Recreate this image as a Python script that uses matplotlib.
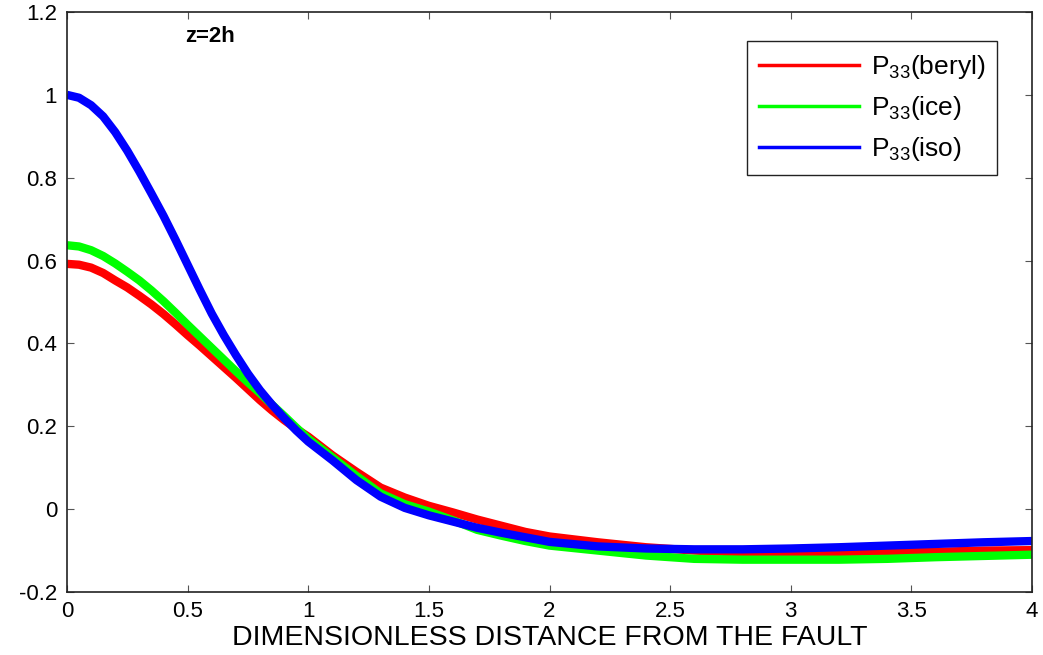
import numpy as np
import matplotlib
matplotlib.use('Agg')
import matplotlib.pyplot as plt
from matplotlib.lines import Line2D

plt.rcParams['font.family'] = ['Liberation Sans', 'DejaVu Sans']
plt.rcParams['mathtext.fontset'] = 'custom'
plt.rcParams['mathtext.rm'] = 'Liberation Sans'

# distance from the fault (dimensionless)
x = [0, 0.05, 0.1, 0.15, 0.2, 0.25, 0.3, 0.35, 0.4, 0.45, 0.5, 0.55, 0.6, 0.65, 0.7,
     0.75, 0.8, 0.85, 0.9, 0.95, 1.0, 1.1, 1.2, 1.3, 1.4, 1.5, 1.6, 1.7, 1.8, 1.9, 2.0,
     2.2, 2.4, 2.6, 2.8, 3.0, 3.2, 3.4, 3.6, 3.8, 4.0]

p33_beryl = [0.592, 0.590, 0.583, 0.570, 0.552, 0.535, 0.515, 0.494, 0.471, 0.446, 0.42,
             0.395, 0.369, 0.343, 0.317, 0.290, 0.263, 0.238, 0.215, 0.194, 0.175,
             0.13, 0.09, 0.052, 0.028, 0.008, -0.008, -0.025, -0.04, -0.055, -0.066,
             -0.08, -0.092, -0.1, -0.105, -0.107, -0.106, -0.105, -0.103, -0.1, -0.099]
p33_ice = [0.637, 0.634, 0.625, 0.611, 0.593, 0.573, 0.552, 0.528, 0.502, 0.474, 0.445,
           0.417, 0.389, 0.361, 0.333, 0.306, 0.28, 0.252, 0.225, 0.197, 0.17,
           0.125, 0.08, 0.038, 0.012, -0.006, -0.027, -0.05, -0.064, -0.077, -0.088,
           -0.1, -0.112, -0.12, -0.122, -0.122, -0.122, -0.12, -0.116, -0.113, -0.11]
p33_iso = [1.0, 0.993, 0.975, 0.948, 0.91, 0.865, 0.815, 0.762, 0.708, 0.65, 0.59,
           0.53, 0.472, 0.42, 0.372, 0.327, 0.287, 0.252, 0.22, 0.19, 0.163,
           0.118, 0.07, 0.03, 0.003, -0.015, -0.03, -0.045, -0.057, -0.068, -0.079,
           -0.09, -0.095, -0.097, -0.097, -0.095, -0.092, -0.088, -0.084, -0.08, -0.077]

labels = [r'P$_{33}$(beryl)', r'P$_{33}$(ice)', r'P$_{33}$(iso)']
colors = ['#ff0000', '#00ff00', '#0000ff']

xticks = [0, 0.5, 1, 1.5, 2, 2.5, 3, 3.5, 4]
xtick_labels = ['0', '0.5', '1', '1.5', '2', '2.5', '3', '3.5', '4']
yticks = [-0.2, 0, 0.2, 0.4, 0.6, 0.8, 1, 1.2]
ytick_labels = ['-0.2', '0', '0.2', '0.4', '0.6', '0.8', '1', '1.2']

fig = plt.figure(figsize=(10.43, 6.55), dpi=100)
ax = fig.add_axes([0.0642, 0.0962, 0.9253, 0.8855])

for ys, c in zip([p33_beryl, p33_ice, p33_iso], colors):
    ax.plot(x, ys, color=c, linewidth=6, solid_capstyle='butt')

ax.set_xlim(0, 4)
ax.set_ylim(-0.2, 1.2)
ax.set_xticks(xticks)
ax.set_xticklabels(xtick_labels)
ax.set_yticks(yticks)
ax.set_yticklabels(ytick_labels)
ax.tick_params(direction='in', length=5, width=0.8, color='#555555',
               top=True, right=True, labelsize=16)
ax.tick_params(axis='x', pad=6.5)
ax.tick_params(axis='y', pad=7)
for s in ax.spines.values():
    s.set_linewidth(1.2)
    s.set_color('#222222')

ax.set_xlabel('DIMENSIONLESS DISTANCE FROM THE FAULT', fontsize=20.5, labelpad=2)
ax.text(0.49, 1.14, 'z=2h', fontsize=16, fontweight='bold', va='center', ha='left')

handles = [Line2D([], [], color=c, linewidth=2.5) for c in colors]
leg = ax.legend(handles, labels, loc='upper right', bbox_to_anchor=(0.9637, 0.95),
                borderaxespad=0, fontsize=19, handlelength=3.8, handletextpad=0.45,
                labelspacing=0.5, borderpad=0.45, fancybox=False, framealpha=1)
leg.get_frame().set_edgecolor('#222222')
leg.get_frame().set_linewidth(1.0)

fig.savefig('out.png', dpi=100, facecolor='white')
